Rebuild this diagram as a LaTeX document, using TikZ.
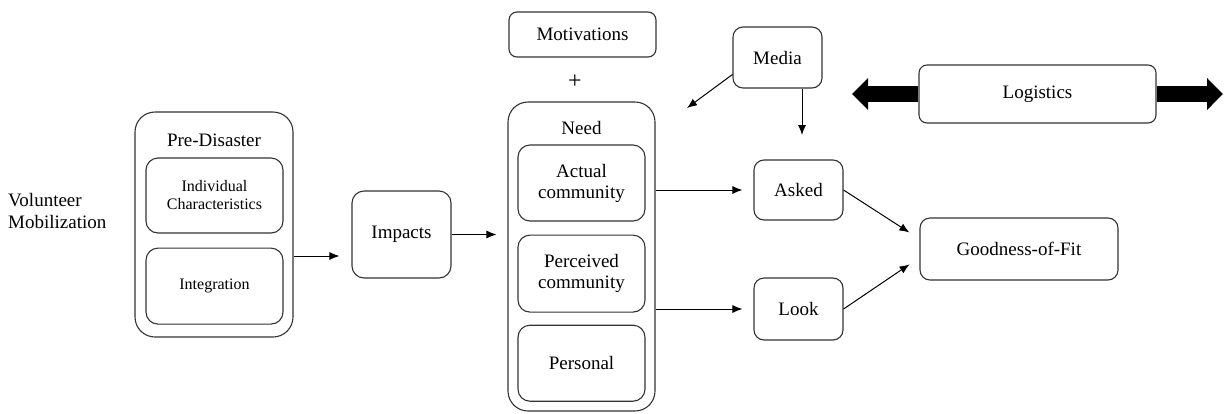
\documentclass[tikz,border=0pt]{standalone}
\usepackage{fontspec}
\setmainfont{Liberation Serif}
\usetikzlibrary{arrows.meta,positioning}

\begin{document}
\begin{tikzpicture}[
    x=1pt, y=-1pt,
    node distance=12pt,
    box/.style={rectangle, rounded corners=10pt, draw=black!80, line width=1.1pt, align=center, inner sep=0pt, font=\fontsize{19}{21}\selectfont},
    group/.style={box, rounded corners=20pt},
    smallbox/.style={box, rounded corners=12pt, font=\fontsize{16}{18}\selectfont},
    lbl/.style={inner sep=0pt, align=left, font=\fontsize{19}{22}\selectfont},
    arrow/.style={-{Latex[length=10pt,width=8pt]}, line width=1pt},
    fat/.style={line width=16pt, -{Triangle[length=16pt,width=31pt]}}
]
\useasboundingbox (0,0) rectangle (1225,413);

% left part
\node[lbl, anchor=west] (volunteer) at (8,211) {Volunteer\\Mobilization};
\node[group, minimum width=158pt, minimum height=225pt] (pre) at (214,224.5) {};
\node[lbl] (prelbl) at (214,140) {Pre-Disaster};
\node[smallbox, minimum width=137pt, minimum height=75pt] (indiv) at (214.5,195.5) {Individual\\Characteristics};
\node[smallbox, minimum width=137pt, minimum height=76pt, below=14pt of indiv] (integ) {Integration};
\node[box, rounded corners=12pt, minimum width=99pt, minimum height=87pt] (impacts) at (401.5,234.5) {Impacts};

% need
\node[box, rounded corners=8pt, minimum width=147pt, minimum height=45pt] (motiv) at (582.5,34.5) {Motivations};
\node[lbl, font=\fontsize{24}{24}\selectfont] (plus) at (575,82) {+};
\node[group, minimum width=147pt, minimum height=309pt] (need) at (581.5,256.5) {};
\node[lbl] (needlbl) at (581.5,128) {Need};
\node[box, rounded corners=12pt, minimum width=127pt, minimum height=76pt] (actual) at (581.5,183) {Actual\\community};
\node[box, rounded corners=12pt, minimum width=127pt, minimum height=77pt, below=13pt of actual] (perceived) {Perceived\\community};
\node[box, rounded corners=12pt, minimum width=127pt, minimum height=76pt, below=12pt of perceived] (personal) {Personal};

% right part
\node[box, minimum width=89pt, minimum height=61pt] (media) at (777.5,57.5) {Media};
\node[box, rounded corners=8pt, minimum width=237pt, minimum height=58pt] (logi) at (1037.5,94) {Logistics};
\node[box, minimum width=89pt, minimum height=60pt] (asked) at (798.5,190) {Asked};
\node[box, minimum width=89pt, minimum height=62pt] (look) at (798.5,309) {Look};
\node[box, minimum width=198pt, minimum height=62pt] (gof) at (1019,249) {Goodness-of-Fit};

\coordinate (mediaL) at (687,108);
\coordinate (mediaD) at (802,135);
\coordinate (logiL) at (852,94);
\coordinate (logiR) at (1223,94);

\draw[arrow, shorten >=12pt] (pre.east |- 0,256) -- (impacts.west |- 0,256);
\draw[arrow, shorten >=11pt] (impacts.east) -- (impacts.east -| need.west);
\draw[arrow] ([yshift=-17pt]media.west) -- (mediaL);
\draw[arrow] ([xshift=24.5pt]media.south) -- (mediaD);
\draw[arrow, shorten >=11pt] (need.east |- asked) -- (asked);
\draw[arrow, shorten >=11pt] (need.east |- look) -- (look);
\draw[arrow, shorten >=12pt] (asked.east) -- ([yshift=10pt]gof.west);
\draw[arrow, shorten >=12pt] (look.east) -- ([yshift=-8.6pt]gof.west);
\draw[fat] (logi.west) -- (logiL);
\draw[fat] (logi.east) -- (logiR);

\end{tikzpicture}
\end{document}
